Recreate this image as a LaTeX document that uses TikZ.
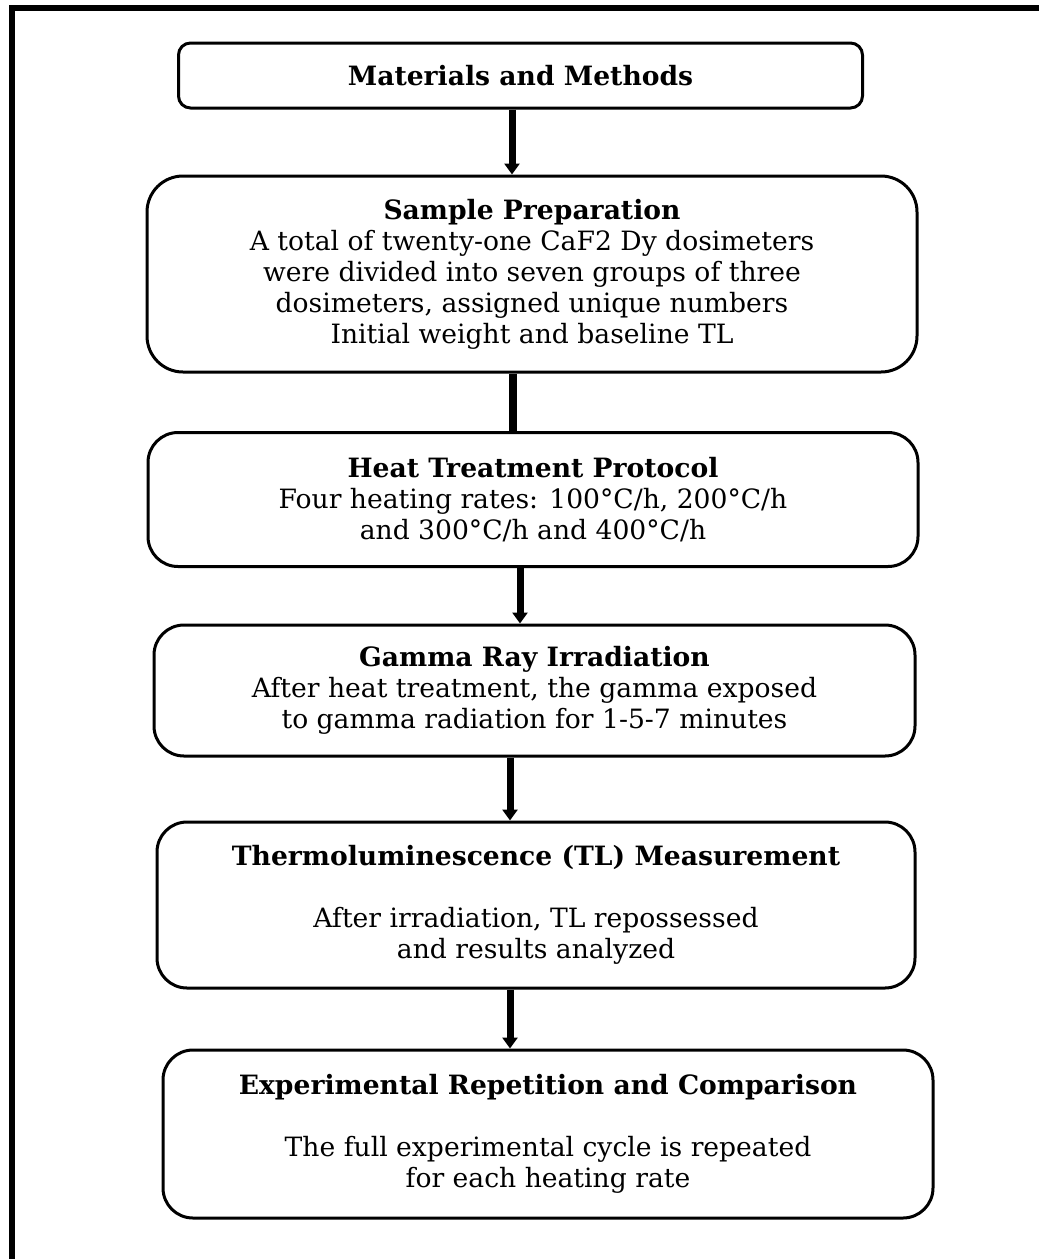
\documentclass[tikz,border=0pt]{standalone}
\usepackage{fontspec}
\setmainfont{DejaVu Serif}
\usetikzlibrary{arrows.meta}
\begin{document}
\begin{tikzpicture}[x=1pt,y=-1pt,
  stepbox/.style={draw=black, line width=3pt, align=center, inner sep=0pt,
    font=\fontsize{26.6}{31}\selectfont, text=black},
  arr/.style={line width=7pt, -{Triangle[width=15pt,length=11pt]}},
  plain/.style={line width=8pt}]
\useasboundingbox (0,0) rectangle (1039,1259);
\fill[white] (0,0) rectangle (1039,1259);
% frame (left and top only visible)
\coordinate (ftl) at (12,8);
\coordinate (ftr) at (1039,8);
\coordinate (fbl) at (12,1259);
\draw[line width=6.5pt] (fbl) -- (ftl) -- (ftr);

\node[stepbox, rounded corners=12pt, minimum width=684pt, minimum height=65pt] (b1) at (520.5,75.5)
  {\textbf{Materials and Methods}};
\node[stepbox, rounded corners=36pt, minimum width=770pt, minimum height=196pt] (b2) at (532,274)
  {\textbf{Sample Preparation}\\A total of twenty-one CaF2 Dy dosimeters\\were divided into seven groups of three\\dosimeters, assigned unique numbers\\Initial weight and baseline TL};
\node[stepbox, rounded corners=30pt, minimum width=770pt, minimum height=134pt] (b3) at (533,499.5)
  {\textbf{Heat Treatment Protocol}\\Four heating rates: 100°C/h, 200°C/h\\and 300°C/h and 400°C/h};
\node[stepbox, rounded corners=30pt, minimum width=761pt, minimum height=131pt] (b4) at (534.5,690.5)
  {\textbf{Gamma Ray Irradiation}\\After heat treatment, the gamma exposed\\to gamma radiation for 1-5-7 minutes};
\node[stepbox, rounded corners=30pt, minimum width=758pt, minimum height=166pt] (b5) at (536,905)
  {\textbf{Thermoluminescence (TL) Measurement}\\[31pt]After irradiation, TL repossessed\\and results analyzed};
\node[stepbox, rounded corners=30pt, minimum width=770pt, minimum height=168pt] (b6) at (548,1134)
  {\textbf{Experimental Repetition and Comparison}\\[31pt]The full experimental cycle is repeated\\for each heating rate};

\draw[arr] (b1.south -| 512,0) -- (b2.north -| 512,0);
\draw[plain] (b2.south -| 512.5,0) -- (b3.north -| 512.5,0);
\draw[arr] (b3.south -| 520,0) -- (b4.north -| 520,0);
\draw[arr] (b4.south -| 510,0) -- (b5.north -| 510,0);
\draw[arr] (b5.south -| 510,0) -- (b6.north -| 510,0);
\end{tikzpicture}
\end{document}
